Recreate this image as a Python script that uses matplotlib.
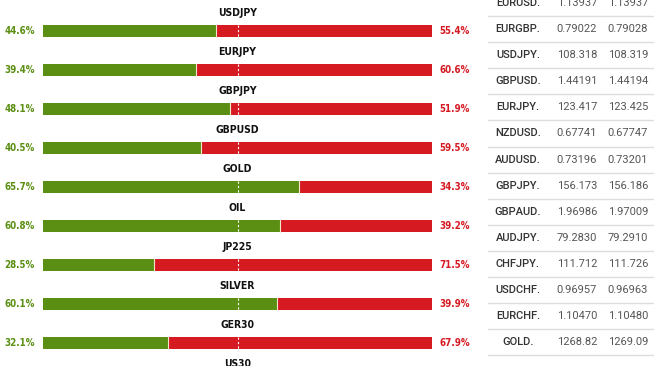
import numpy as np
import matplotlib.pyplot as plt

# sentiment bars
symbols = ["USDJPY", "EURJPY", "GBPJPY", "GBPUSD", "GOLD", "OIL", "JP225", "SILVER", "GER30", "US30"]
long_pct = [44.6, 39.4, 48.1, 40.5, 65.7, 60.8, 28.5, 60.1, 32.1, 50.0]
short_pct = [55.4, 60.6, 51.9, 59.5, 34.3, 39.2, 71.5, 39.9, 67.9, 50.0]

# quotes table
pairs = ["EURUSD.", "EURGBP.", "USDJPY.", "GBPUSD.", "EURJPY.", "NZDUSD.", "AUDUSD.",
         "GBPJPY.", "GBPAUD.", "AUDJPY.", "CHFJPY.", "USDCHF.", "EURCHF.", "GOLD."]
bids = ["1.13937", "0.79022", "108.318", "1.44191", "123.417", "0.67741", "0.73196",
        "156.173", "1.96986", "79.2830", "111.712", "0.96957", "1.10470", "1268.82"]
asks = ["1.13937", "0.79028", "108.319", "1.44194", "123.425", "0.67747", "0.73201",
        "156.186", "1.97009", "79.2910", "111.726", "0.96963", "1.10480", "1269.09"]

green = "#5b8f13"
red = "#d61a22"
W, H = 654, 366
fig = plt.figure(figsize=(W / 100, H / 100), dpi=100)

# bar axes: x from 43px to 432px, row i centred at 31 + 39*i px
ax = fig.add_axes([43 / W, 0, (432 - 43) / W, 1])
ax.set_xlim(0, 100)
ax.set_ylim((H - 31) / 39, -31 / 39)
ax.axis("off")
rows = np.arange(len(symbols))
ax.barh(rows, long_pct, height=12 / 39, color=green, edgecolor="none")
ax.barh(rows, short_pct, left=long_pct, height=12 / 39, color=red, edgecolor="none")
for i in rows:
    ax.plot([long_pct[i], long_pct[i]], [i - 6 / 39, i + 6 / 39], color="#f0e8c8", lw=0.8)
    ax.plot([50, 50], [i - 6 / 39, i + 6 / 39], color="white", lw=0.8, ls=(0, (2, 2)))
    ax.text(50, i - 18 / 39, symbols[i], ha="center", va="center", fontsize=7.5,
            fontweight="bold", family="DejaVu Sans", fontstretch="condensed", color="#111111")
    if i < 9:
        ax.text(-2.1, i, "%.1f%%" % long_pct[i], ha="right", va="center", fontsize=7,
                family="DejaVu Sans", fontstretch="condensed", color=green, fontweight="bold")
        ax.text(1.8 + 100, i, "%.1f%%" % short_pct[i], ha="left", va="center", fontsize=7,
                family="DejaVu Sans", fontstretch="condensed", color=red, fontweight="bold")

# table axes in pixel coords
tx = fig.add_axes([0, 0, 1, 1])
tx.set_xlim(0, W)
tx.set_ylim(H, 0)
tx.axis("off")
tx.patch.set_alpha(0)
for i in range(len(pairs)):
    y = 3 + 26.1 * i
    tx.text(518, y, pairs[i], ha="center", va="center", fontsize=8,
            family="Roboto", fontweight="medium", color="#333333")
    tx.text(577, y, bids[i], ha="center", va="center", fontsize=8,
            family="Roboto", color="#555555")
    tx.text(628, y, asks[i], ha="center", va="center", fontsize=8,
            family="Roboto", color="#555555")
    tx.plot([488, W], [y + 13, y + 13], color="#dddddd", lw=1)

fig.savefig("out.png", dpi=100)
